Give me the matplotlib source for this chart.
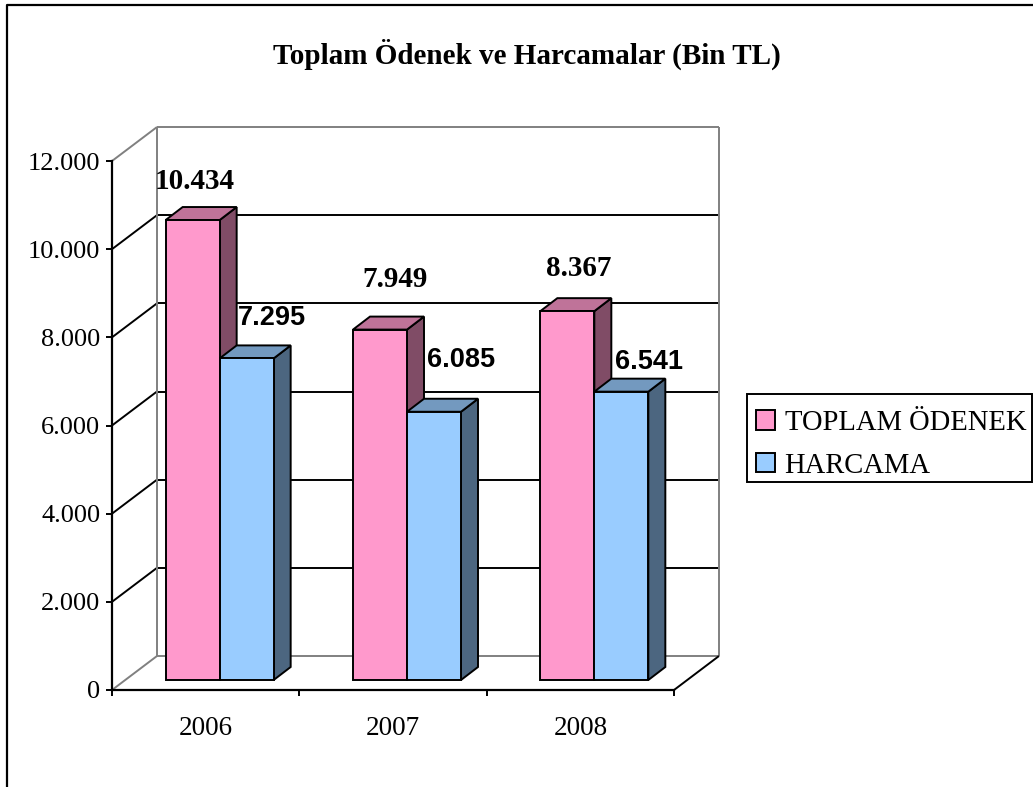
import matplotlib
matplotlib.use('Agg')
import matplotlib.pyplot as plt
import numpy as np
from matplotlib.lines import Line2D
from matplotlib.patches import Patch, Polygon, Rectangle
from matplotlib.ticker import FuncFormatter

years = ['2006', '2007', '2008']
odenek = [10434, 7949, 8367]
harcama = [7295, 6085, 6541]
series_names = ['TOPLAM ÖDENEK', 'HARCAMA']
y_ticks = [0, 2000, 4000, 6000, 8000, 10000, 12000]

W, H = 1033, 787
pink = ('#FF99CC', '#BF7399', '#804C66')
blue = ('#99CCFF', '#7399BF', '#4C6680')
gray = '#808080'

# pixel layout of the fake 3d box
left, right, top, bottom = 112, 674, 161, 690

plt.rcParams['font.family'] = ['Liberation Serif']
fig = plt.figure(figsize=(W / 100, H / 100), dpi=100)
ax = fig.add_axes([left / W, 1 - bottom / H, (right - left) / W, (bottom - top) / H])
ax.set_xlim(0, 3)
ax.set_ylim(0, 12000)
ax.patch.set_visible(False)

px_x = 3 / (right - left)
px_y = 12000 / (bottom - top)


def line(xs, ys, dx=(0, 0), dy=(0, 0), c='k', lw=1.4, z=1):
    ax.plot([xs[0] + dx[0] * px_x, xs[1] + dx[1] * px_x],
            [ys[0] + dy[0] * px_y, ys[1] + dy[1] * px_y],
            color=c, lw=lw, zorder=z, clip_on=False, solid_capstyle='butt')


# walls and floor
depth_x, depth_y = 45, 34
for v in y_ticks:
    c = gray if v in (0, 12000) else 'k'
    line((0, 0), (v, v), (0, depth_x), (0, depth_y), c=c)
    line((0, 3), (v, v), (depth_x, depth_x), (depth_y, depth_y), c=c)
line((0, 0), (0, 12000), (depth_x, depth_x), (depth_y, depth_y), c=gray)
line((3, 3), (0, 12000), (depth_x, depth_x), (depth_y, depth_y), c=gray)
line((3, 3), (0, 0), (0, depth_x), (0, depth_y))

# bars
bar_w = 54 * px_x
bar_dx, bar_dy = 17 * px_x, 13 * px_y
base = 10 * px_y


def bar3d(x, v, cols, z):
    y0, y1 = base, base + v
    x1 = x + bar_w
    kw = dict(ec='k', lw=1.4, zorder=z, clip_on=False, joinstyle='miter')
    ax.add_patch(Polygon([(x1, y0), (x1 + bar_dx, y0 + bar_dy), (x1 + bar_dx, y1 + bar_dy), (x1, y1)], fc=cols[2], **kw))
    ax.add_patch(Polygon([(x, y1), (x + bar_dx, y1 + bar_dy), (x1 + bar_dx, y1 + bar_dy), (x1, y1)], fc=cols[1], **kw))
    ax.add_patch(Polygon([(x, y0), (x1, y0), (x1, y1), (x, y1)], fc=cols[0], **kw))


centers = np.arange(len(years)) + 0.5 + 14 * px_x
for i in range(len(years)):
    bar3d(centers[i] - bar_w, odenek[i], pink, 3 + i)
    bar3d(centers[i], harcama[i], blue, 3.5 + i)

# data labels, nudged by hand like the original
odenek_off = [(-25, 39), (-12, 50), (-16, 43)]
harcama_off = [(52, 40), (54, 52), (55, 30)]


def dots(v):
    return f'{int(v):,}'.replace(',', '.')


for i in range(len(years)):
    ax.annotate(dots(odenek[i]), (centers[i], base + odenek[i]), xytext=odenek_off[i],
                textcoords='offset pixels', ha='center', va='center', fontsize=21,
                fontweight='bold', zorder=10, annotation_clip=False)
    ax.annotate(dots(harcama[i]), (centers[i], base + harcama[i]), xytext=harcama_off[i],
                textcoords='offset pixels', ha='center', va='center', fontsize=19.5,
                fontweight='bold', family='Liberation Sans', zorder=10, annotation_clip=False)

# axes
for s in ('top', 'right'):
    ax.spines[s].set_visible(False)
for s in ('left', 'bottom'):
    ax.spines[s].set_linewidth(1.6)
    ax.spines[s].set_zorder(8)
ax.set_yticks(y_ticks)
ax.yaxis.set_major_formatter(FuncFormatter(lambda v, p: dots(v)))
ax.set_xticks([0, 1, 2, 3])
ax.set_xticklabels([])
ax.set_xticks([0.5, 1.5, 2.5], minor=True)
ax.set_xticklabels(years, minor=True)
ax.tick_params(axis='both', which='major', length=4.5, width=1.4, labelsize=19, pad=4)
ax.tick_params(axis='x', which='minor', length=0, labelsize=19.5, pad=18.5)

fig.text(527 / W, 1 - 54 / H, 'Toplam Ödenek ve Harcamalar (Bin TL)', ha='center', va='center',
         fontsize=21, fontweight='bold')

# legend box is a bit taller than the entries need, so the frame is drawn apart
fig.add_artist(Rectangle((747 / W, 1 - 482 / H), 285 / W, 88 / H, transform=fig.transFigure,
                         fc='white', ec='k', lw=1.4))
handles = [Patch(fc=pink[0], ec='k', lw=1.4), Patch(fc=blue[0], ec='k', lw=1.4)]
leg = fig.legend(handles, series_names, loc='upper left', bbox_to_anchor=(748 / W, 1 - 402 / H),
                 fontsize=20.6, frameon=False, handlelength=0.65, handleheight=0.65,
                 handletextpad=0.35, borderaxespad=0, borderpad=0.28, labelspacing=0.58)

# chart border, runs off the right and bottom edge of the image
fig.add_artist(Line2D([7 / W, 7 / W, 1], [0, 1 - 5 / H, 1 - 5 / H], color='k', lw=1.6))

fig.savefig('out.png', dpi=100)
